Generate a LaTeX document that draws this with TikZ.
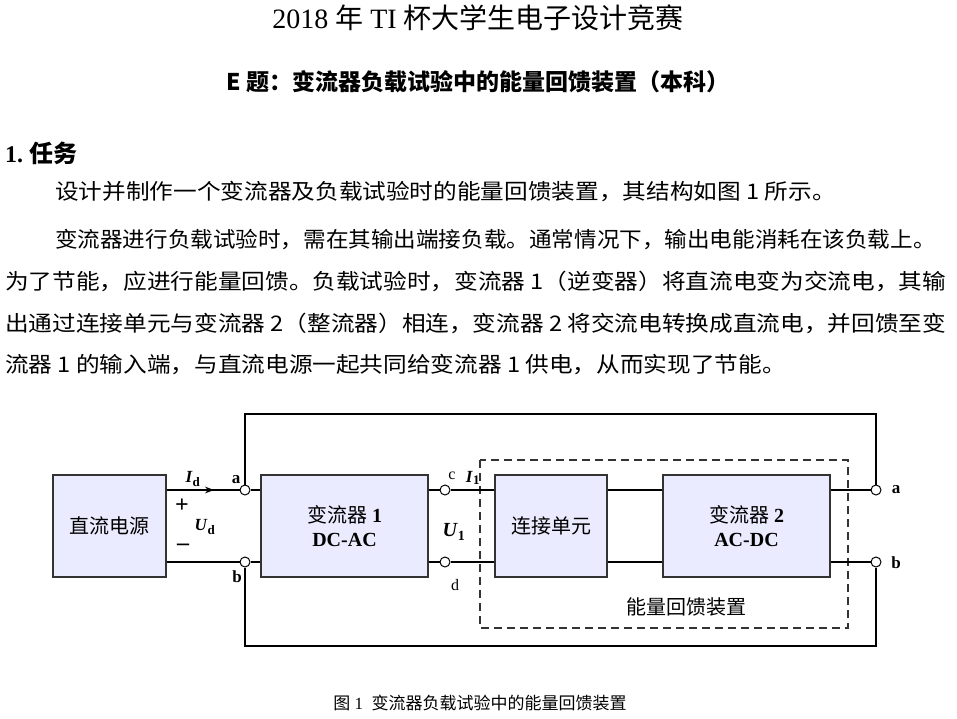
\documentclass[tikz,border=0pt]{standalone}
\usepackage{fontspec}
\setmainfont{Liberation Serif}
\newfontfamily\cjk{Noto Sans CJK SC}
\usetikzlibrary{arrows.meta}
\newcommand{\wideline}[1]{\scalebox{1.1}[1]{#1}}
\begin{document}
\begin{tikzpicture}[x=1pt,y=-1pt,
  blk/.style={draw=black!80,fill=blue!8!white,line width=1.2pt,inner sep=0pt},
  term/.style={circle,draw,fill=white,inner sep=0pt,minimum size=10pt,line width=1pt},
  wire/.style={line width=1.2pt},
  lbl/.style={inner sep=0pt,font=\fontsize{17}{17}\selectfont\bfseries},
  para/.style={anchor=west,inner sep=0pt,font=\cjk\fontsize{21.5}{22}\selectfont}]
\useasboundingbox (0,0) rectangle (957,719);
\node[inner sep=0pt,font=\fontsize{28}{28}\selectfont] (t1) at (478,18) {2018 {\cjk 年} TI {\cjk 杯大学生电子设计竞赛}};
\node[inner sep=0pt,font=\cjk\bfseries\fontsize{23}{23}\selectfont] (t2) at (478,82) {E 题：变流器负载试验中的能量回馈装置（本科）};
\node[anchor=west,inner sep=0pt,font=\bfseries\fontsize{24}{24}\selectfont] (h1) at (5,153) {1.\ {\cjk 任务}};
\node[para] (p1) at (55,192) {\wideline{设计并制作一个变流器及负载试验时的能量回馈装置，其结构如图 1 所示。}};
\node[para] (p2) at (55,240) {\scalebox{1.05}[1]{变流器进行负载试验时，需在其输出端接负载。通常情况下，输出电能消耗在该负载上。}};
\node[para] (p3) at (5,281) {\wideline{为了节能，应进行能量回馈。负载试验时，变流器 1（逆变器）将直流电变为交流电，其输}};
\node[para] (p4) at (5,323) {\wideline{出通过连接单元与变流器 2（整流器）相连，变流器 2 将交流电转换成直流电，并回馈至变}};
\node[para] (p5) at (5,365) {\wideline{流器 1 的输入端，与直流电源一起共同给变流器 1 供电，从而实现了节能。}};
% dashed box
\draw[line width=1.2pt,dash pattern=on 8pt off 5pt,black!80] (480,460) rectangle (848,628);
% blocks
\node[blk,minimum width=113pt,minimum height=102pt,font=\cjk\fontsize{20}{20}\selectfont] (src) at (109.5,526) {直流电源};
\node[blk,minimum width=167pt,minimum height=102pt,align=center,font=\fontsize{20}{24}\selectfont\bfseries] (c1) at (344.5,526) {{\cjk\mdseries 变流器} 1\\DC-AC};
\node[blk,minimum width=112pt,minimum height=102pt,font=\cjk\fontsize{20}{20}\selectfont] (lnk) at (551,526) {连接单元};
\node[blk,minimum width=167pt,minimum height=102pt,align=center,font=\fontsize{20}{24}\selectfont\bfseries] (c2) at (746.5,526) {{\cjk\mdseries 变流器} 2\\AC-DC};
% terminals
\node[term] (ta) at (245,490) {};
\node[term] (tb) at (245,562) {};
\node[term] (tc) at (445,490) {};
\node[term] (td) at (445,562) {};
\node[term] (ra) at (876,490) {};
\node[term] (rb) at (876,562) {};
% wires
\draw[wire] (src.east |- ta) -- (ta);
\draw[-{Stealth[length=9pt]},line width=1.2pt] (src.east |- ta) -- (214,490);
\draw[wire] (src.east |- tb) -- (tb);
\draw[wire] (ta) -- (c1.west |- ta);
\draw[wire] (tb) -- (c1.west |- tb);
\draw[wire] (c1.east |- tc) -- (tc);
\draw[wire] (c1.east |- td) -- (td);
\draw[wire] (tc) -- (lnk.west |- tc);
\draw[wire] (td) -- (lnk.west |- td);
\draw[wire] (lnk.east |- tc) -- (c2.west |- tc);
\draw[wire] (lnk.east |- td) -- (c2.west |- td);
\draw[wire] (c2.east |- ra) -- (ra);
\draw[wire] (c2.east |- rb) -- (rb);
\draw[wire] (ta) -- (245,414) -- (876,414) -- (ra);
\draw[wire] (tb) -- (245,646) -- (876,646) -- (rb);
% labels
\node[lbl] (lId) at (193,479) {\textit{I}\textsubscript{\fontsize{13}{13}\selectfont d}};
\node[lbl] (la) at (236,480) {a};
\node[lbl,font=\fontsize{24}{24}\selectfont\bfseries] (lp) at (182,506) {+};
\node[lbl] (lUd) at (205,527) {\textit{U}\textsubscript{\fontsize{13}{13}\selectfont d}};
\node[lbl,font=\fontsize{24}{24}\selectfont\bfseries] (lm) at (183,547) {\textendash};
\node[lbl] (lb) at (237,577) {b};
\node[lbl,font=\fontsize{16}{16}\selectfont] (lc) at (452,476) {c};
\node[lbl] (lI1) at (473,478) {\textit{I}\textsubscript{\fontsize{13}{13}\selectfont 1}};
\node[lbl,font=\fontsize{20}{20}\selectfont\bfseries] (lU1) at (454,532) {\textit{U}\textsubscript{1}};
\node[lbl,font=\fontsize{16}{16}\selectfont] (ld) at (455,585) {d};
\node[lbl] (lra) at (896,490) {a};
\node[lbl] (lrb) at (896,563) {b};
\node[inner sep=0pt,font=\cjk\fontsize{20}{20}\selectfont] (lfb) at (686,607) {能量回馈装置};
\node[inner sep=0pt,font=\fontsize{17}{17}\selectfont] (cap) at (480,703) {{\cjk 图} 1\ \ {\cjk 变流器负载试验中的能量回馈装置}};
\end{tikzpicture}
\end{document}
